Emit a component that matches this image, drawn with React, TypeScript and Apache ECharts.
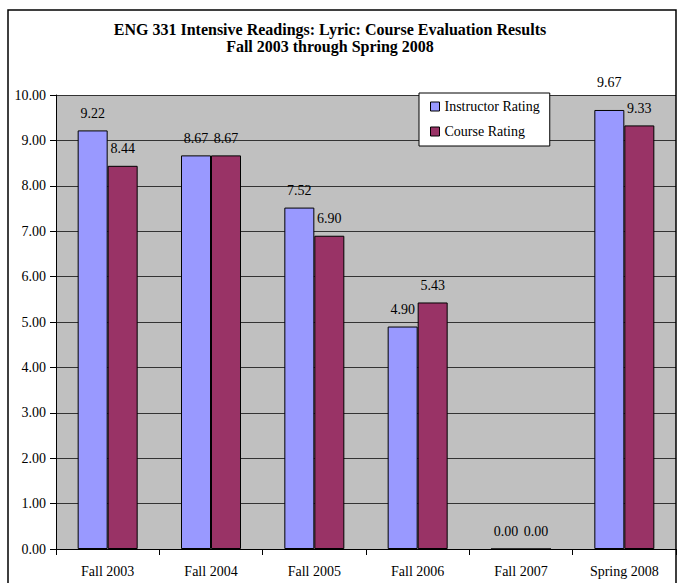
import React, { useEffect, useRef } from "react";
import * as echarts from "echarts";

// Course evaluation scores per term
const categories = ["Fall 2003", "Fall 2004", "Fall 2005", "Fall 2006", "Fall 2007", "Spring 2008"];
const instructorRating = [9.22, 8.67, 7.52, 4.9, 0.0, 9.67];
const courseRating = [8.44, 8.67, 6.9, 5.43, 0.0, 9.33];
const seriesNames = ["Instructor Rating", "Course Rating"];
const titleLines = [
  "ENG 331 Intensive Readings: Lyric: Course Evaluation Results",
  "Fall 2003 through Spring 2008",
];

// The Spring 2008 instructor label sits a little higher than the rest
const raisedLabelIndex = 5;

const FONT = "'Liberation Serif', 'Times New Roman', serif";

export default function App() {
  const ref = useRef<HTMLDivElement>(null);

  useEffect(() => {
    if (!ref.current) return;
    const chart = echarts.init(ref.current, null, { renderer: "svg" });

    const labelStyle = {
      show: true,
      position: "top" as const,
      distance: 10,
      fontFamily: FONT,
      fontSize: 14,
      color: "#000",
      formatter: (p: any) => Number(p.value).toFixed(2),
    };

    chart.setOption({
      animation: false,
      backgroundColor: "#fff",
      title: {
        text: titleLines.join("\n"),
        left: 325,
        top: 16,
        textAlign: "center",
        textStyle: {
          fontFamily: FONT,
          fontSize: 16,
          fontWeight: "bold",
          color: "#000",
          lineHeight: 17,
        },
      },
      graphic: [
        {
          type: "rect",
          shape: { x: 8, y: 10, width: 668, height: 600 },
          style: { fill: "none", stroke: "#000", lineWidth: 1.5 },
          z: 100,
        },
      ],
      legend: {
        orient: "vertical",
        left: 419,
        top: 93,
        backgroundColor: "#fff",
        borderColor: "#000",
        borderWidth: 1,
        padding: [6, 10, 7, 11],
        itemGap: 10,
        itemWidth: 9,
        itemHeight: 9,
        icon: "rect",
        itemStyle: { borderColor: "#000", borderWidth: 1 },
        textStyle: { fontFamily: FONT, fontSize: 14, color: "#000", lineHeight: 15 },
        data: seriesNames,
      },
      grid: {
        left: 56,
        right: 5,
        top: 95,
        bottom: 34,
        show: true,
        backgroundColor: "#C0C0C0",
        borderWidth: 0,
      },
      xAxis: {
        type: "category",
        data: categories,
        axisLine: { show: true, lineStyle: { color: "#000", width: 1 } },
        axisTick: { show: true, length: 6, lineStyle: { color: "#000" } },
        axisLabel: { fontFamily: FONT, fontSize: 14, color: "#000", margin: 15 },
        splitLine: { show: false },
      },
      yAxis: {
        type: "value",
        min: 0,
        max: 10,
        interval: 1,
        axisLine: { show: true, lineStyle: { color: "#000", width: 1 } },
        axisTick: { show: true, length: 6, lineStyle: { color: "#000" } },
        axisLabel: {
          fontFamily: FONT,
          fontSize: 14,
          color: "#000",
          margin: 10,
          formatter: (v: number) => v.toFixed(2),
        },
        splitLine: { show: true, lineStyle: { color: "#333", width: 1 } },
      },
      series: [
        {
          name: seriesNames[0],
          type: "bar",
          barWidth: 30,
          barGap: "0%",
          itemStyle: { color: "#9999FF", borderColor: "#000", borderWidth: 1 },
          label: labelStyle,
          data: instructorRating.map((v, i) =>
            i === raisedLabelIndex ? { value: v, label: { distance: 20 } } : v
          ),
        },
        {
          name: seriesNames[1],
          type: "bar",
          barWidth: 30,
          barGap: "0%",
          itemStyle: { color: "#993366", borderColor: "#000", borderWidth: 1 },
          label: labelStyle,
          data: courseRating,
        },
      ],
    });

    return () => chart.dispose();
  }, []);

  return (
    <div
      ref={ref}
      style={{ position: "fixed", left: 0, top: 0, width: 681, height: 583 }}
    />
  );
}
